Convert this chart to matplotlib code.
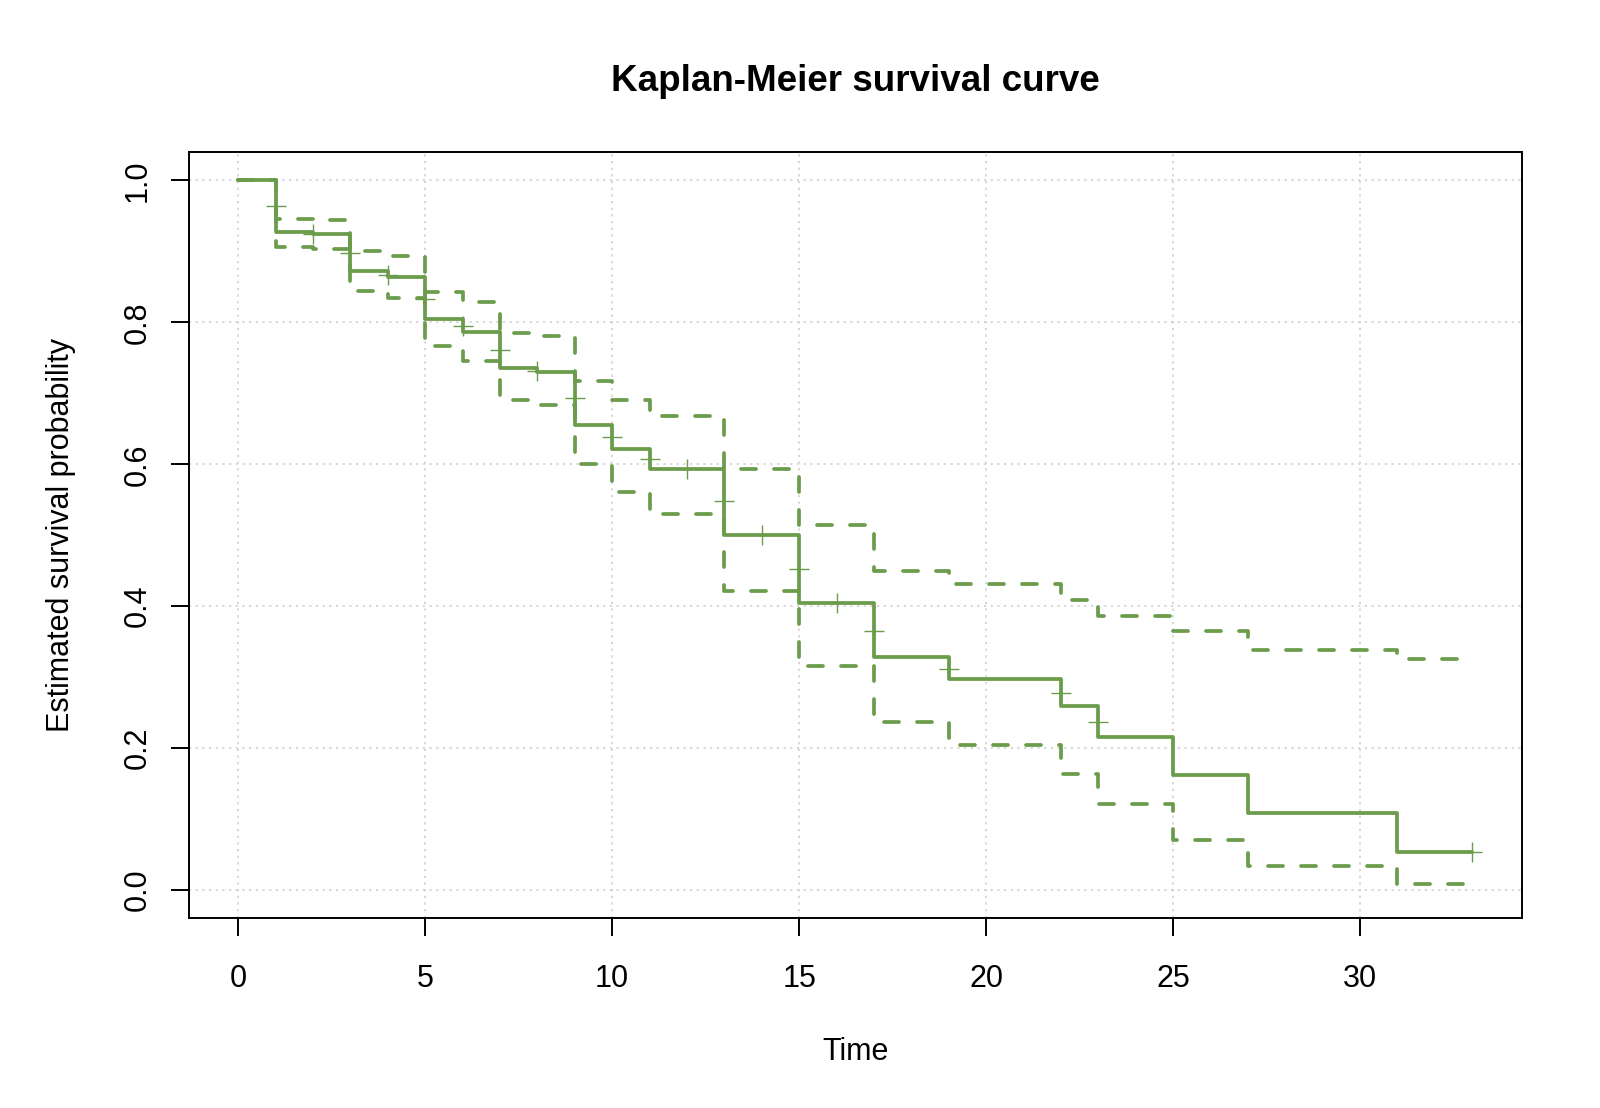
import matplotlib
matplotlib.use('Agg')
import matplotlib.pyplot as plt

plt.rcParams['font.family'] = ['Liberation Sans', 'DejaVu Sans']

# Kaplan-Meier estimate (step changes, post)
times = [0, 1, 2, 3, 4, 5, 6, 7, 8, 9, 10, 11, 13, 15, 17, 19, 22, 23, 25, 27, 31]
surv = [1.0, 0.927, 0.924, 0.872, 0.864, 0.804, 0.786, 0.735, 0.730, 0.655, 0.622,
        0.594, 0.501, 0.404, 0.328, 0.297, 0.260, 0.216, 0.162, 0.108, 0.053]
upper = [1.0, 0.946, 0.944, 0.901, 0.893, 0.843, 0.828, 0.785, 0.781, 0.718, 0.691,
         0.668, 0.594, 0.515, 0.450, 0.431, 0.409, 0.386, 0.365, 0.338, 0.325]
lower = [1.0, 0.906, 0.904, 0.844, 0.834, 0.766, 0.746, 0.690, 0.683, 0.600, 0.561,
         0.530, 0.421, 0.316, 0.237, 0.205, 0.164, 0.121, 0.071, 0.034, 0.008]
end_time = 33

# censoring marks
cens_t = [1, 2, 3, 4, 5, 6, 7, 8, 9, 10, 11, 12, 13, 14, 15, 16, 17, 19, 22, 23, 33]
cens_s = [0.964, 0.925, 0.898, 0.867, 0.833, 0.795, 0.761, 0.732, 0.693, 0.639, 0.608,
          0.594, 0.548, 0.501, 0.452, 0.404, 0.365, 0.311, 0.277, 0.237, 0.053]

xticks = [0, 5, 10, 15, 20, 25, 30]
yticks = [0.0, 0.2, 0.4, 0.6, 0.8, 1.0]

green = '#6B9C4B'

fig = plt.figure(figsize=(16, 11.08), dpi=100)
ax = fig.add_axes([0.118, 0.1711, 0.833, 0.6917])

# grid
for x in xticks:
    ax.axvline(x, color='#D3D3D3', lw=1.3, ls=(0, (1.2, 2.5)), zorder=0)
for y in yticks:
    ax.axhline(y, color='#D3D3D3', lw=1.3, ls=(0, (1.2, 2.5)), zorder=0)

tt = times + [end_time]
ax.step(tt, surv + [surv[-1]], where='post', color=green, lw=2.7,
        solid_capstyle='round', solid_joinstyle='round')
for band in (upper, lower):
    ax.step(tt, band + [band[-1]], where='post', color=green, lw=2.7,
            dashes=(4, 4.8), dash_capstyle='round', dash_joinstyle='round')
ax.plot(cens_t, cens_s, '+', color=green, ms=15, mew=1.0)

ax.set_xlim(-1.32, 34.32)
ax.set_ylim(-0.04, 1.04)
ax.set_xticks(xticks)
ax.set_xticklabels([str(x) for x in xticks], fontsize=22)
ax.set_yticks(yticks)
ax.set_yticklabels(['%.1f' % y for y in yticks], fontsize=22, rotation=90, va='center')
ax.tick_params(length=13, width=1.4, color='black')
ax.tick_params(axis='x', pad=20)
ax.tick_params(axis='y', pad=13)
for s in ax.spines.values():
    s.set_linewidth(1.4)

ax.set_xlabel('Time', fontsize=22)
ax.set_ylabel('Estimated survival probability', fontsize=22)
ax.xaxis.set_label_coords(0.5, -0.1744)
ax.yaxis.set_label_coords(-0.0959, 0.5)
ax.xaxis.label.set_va('center')
ax.yaxis.label.set_va('center')

ax.set_title('Kaplan-Meier survival curve', fontsize=26.5, fontweight='bold',
             y=1.092, va='center', pad=0)

plt.savefig('out.png', dpi=100)
